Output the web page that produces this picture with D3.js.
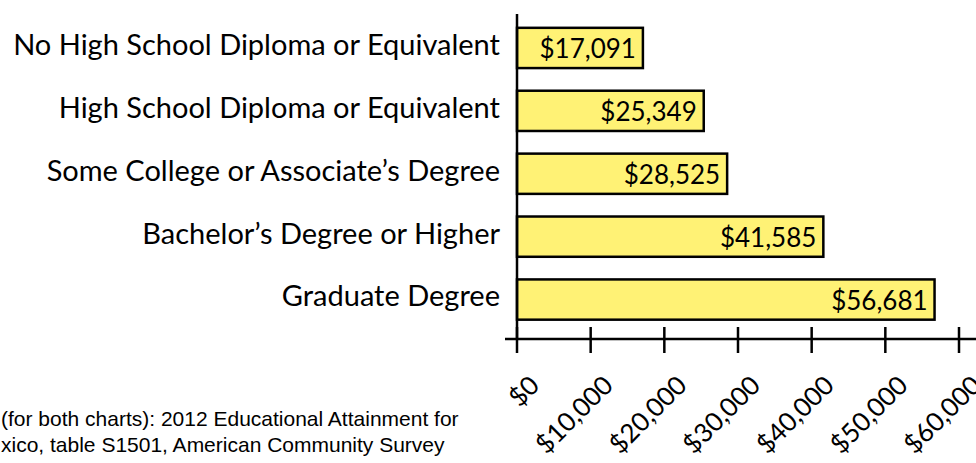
<!DOCTYPE html>
<html>
<head>
<meta charset="utf-8">
<script src="https://cdn.jsdelivr.net/npm/d3@7"></script>
<style>
  body { margin: 0; background: #fff; }
  svg { display: block; }
  .cat { font-family: Lato, "Open Sans", sans-serif; font-size: 29px; fill: #000; }
  .val { font-family: Lato, "Open Sans", sans-serif; font-size: 26px; fill: #000; }
  .tick-label { font-family: Lato, "Open Sans", sans-serif; font-size: 26px; fill: #000; }
  .note { font-family: "Liberation Sans", Arial, sans-serif; font-size: 21px; fill: #000; }
</style>
</head>
<body>
<svg id="chart"></svg>
<script>
const categories = [
  "No High School Diploma or Equivalent",
  "High School Diploma or Equivalent",
  "Some College or Associate\u2019s Degree",
  "Bachelor\u2019s Degree or Higher",
  "Graduate Degree"
];
const earnings = [17091, 25349, 28525, 41585, 56681];
const tickValues = [0, 10000, 20000, 30000, 40000, 50000, 60000];
const noteLines = [
  "(for both charts): 2012 Educational Attainment for",
  "xico, table S1501, American Community Survey"
];

const winWidth = 976;
const winHeight = 463;
const axisY = 339;

const svg = d3.select("#chart")
  .attr("width", winWidth)
  .attr("height", winHeight);

/* Scales */
const x = d3.scaleLinear().domain([0, 60000]).range([517, 959]);
const y = d3.scaleBand()
  .domain(categories)
  .range([16.5, 331])
  .paddingInner(0.36)
  .paddingOuter(0.18);

const fmt = d3.format("$,");

// bars
svg.append("g")
  .selectAll("rect")
  .data(earnings)
  .join("rect")
  .attr("x", x(0))
  .attr("y", (d, i) => y(categories[i]))
  .attr("width", d => x(d) - x(0))
  .attr("height", y.bandwidth())
  .attr("fill", "#fff275")
  .attr("stroke", "#000")
  .attr("stroke-width", 2.5);

// value labels
svg.append("g")
  .selectAll("text")
  .data(earnings)
  .join("text")
  .attr("class", "val")
  .attr("x", d => x(d) - 7)
  .attr("y", (d, i) => y(categories[i]) + y.bandwidth() / 2 + 1)
  .attr("dy", "0.36em")
  .attr("text-anchor", "end")
  .text(d => fmt(d));

// category labels
svg.append("g")
  .selectAll("text")
  .data(categories)
  .join("text")
  .attr("class", "cat")
  .attr("x", 500)
  .attr("y", d => y(d) + y.bandwidth() / 2 - 3.5)
  .attr("dy", "0.36em")
  .attr("text-anchor", "end")
  .text(d => d);

/* Axes */
svg.append("line")
  .attr("x1", x(0)).attr("x2", x(0))
  .attr("y1", 14).attr("y2", axisY)
  .attr("stroke", "#000").attr("stroke-width", 2.5);

const xAxis = svg.append("g").attr("class", "x axis");
xAxis.append("line")
  .attr("x1", 505).attr("x2", winWidth)
  .attr("y1", axisY).attr("y2", axisY)
  .attr("stroke", "#000").attr("stroke-width", 2.5);

const ticks = xAxis.selectAll("g.tick")
  .data(tickValues)
  .join("g")
  .attr("class", "tick")
  .attr("transform", d => `translate(${x(d)},${axisY})`);

ticks.append("line")
  .attr("y1", -12).attr("y2", 14)
  .attr("stroke", "#000").attr("stroke-width", 2.5);

ticks.append("text")
  .attr("class", "tick-label")
  .attr("text-anchor", "end")
  .attr("transform", "translate(24,48) rotate(-45)")
  .text(d => fmt(d));

// source note
svg.append("g")
  .selectAll("text")
  .data(noteLines)
  .join("text")
  .attr("class", "note")
  .attr("x", 1)
  .attr("y", (d, i) => 426 + i * 26)
  .text(d => d);
</script>
</body>
</html>
